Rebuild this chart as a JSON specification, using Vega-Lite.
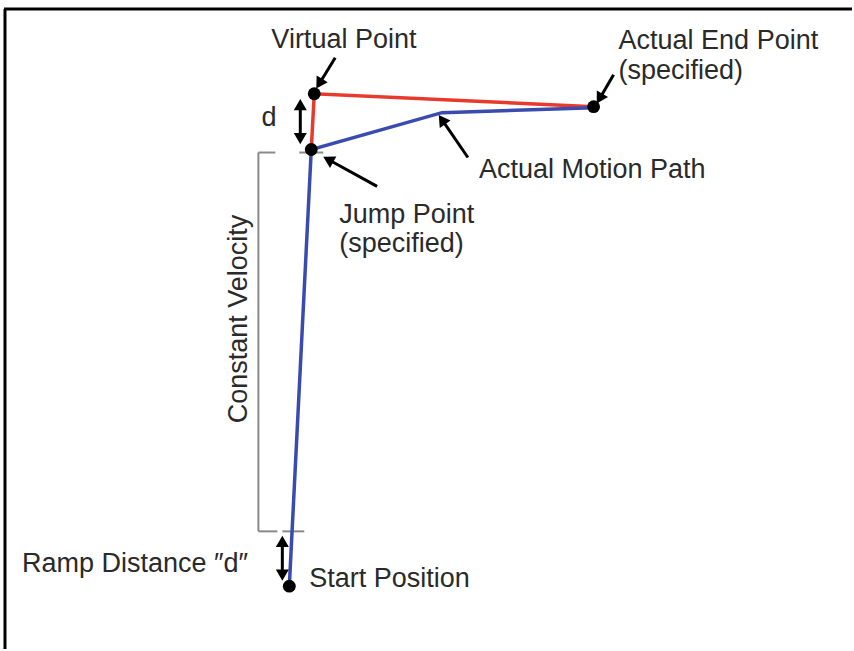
{
  "$schema": "https://vega.github.io/schema/vega-lite/v6.json",
  "width": 854,
  "height": 651,
  "padding": 0,
  "autosize": {"type": "fit", "contains": "padding"},
  "background": "white",
  "config": {"view": {"stroke": null}},
  "datasets": {
    "frame": [
      {"x": 4, "y": 9, "x2": 854, "y2": 9},
      {"x": 5, "y": 9, "x2": 5, "y2": 651}
    ],
    "bracket": [
      {"x": 259, "y": 153, "x2": 259, "y2": 533},
      {"x": 259, "y": 153, "x2": 276, "y2": 153},
      {"x": 259, "y": 533, "x2": 278, "y2": 533},
      {"x": 283, "y": 533, "x2": 305, "y2": 533},
      {"x": 300, "y": 153, "x2": 324, "y2": 153}
    ],
    "paths": [
      {"path": "planned", "ord": 1, "x": 312, "y": 150},
      {"path": "planned", "ord": 2, "x": 315, "y": 94},
      {"path": "planned", "ord": 3, "x": 595, "y": 107},
      {"path": "actual", "ord": 1, "x": 290, "y": 588},
      {"path": "actual", "ord": 2, "x": 312, "y": 150},
      {"path": "actual", "ord": 3, "x": 443, "y": 113},
      {"path": "actual", "ord": 4, "x": 595, "y": 108}
    ],
    "dots": [
      {"x": 315, "y": 94},
      {"x": 595, "y": 107},
      {"x": 312, "y": 150},
      {"x": 290, "y": 588}
    ],
    "arrows": [
      {"x1": 336, "y1": 58, "x2": 320, "y2": 84, "both": false},
      {"x1": 615, "y1": 75, "x2": 601, "y2": 99, "both": false},
      {"x1": 469, "y1": 158, "x2": 443, "y2": 120, "both": false},
      {"x1": 378, "y1": 187, "x2": 329, "y2": 160, "both": false},
      {"x1": 301, "y1": 105, "x2": 301, "y2": 139, "both": true},
      {"x1": 283, "y1": 543, "x2": 283, "y2": 577, "both": true}
    ],
    "labels": [
      {"x": 272, "y": 48, "text": "Virtual Point"},
      {"x": 620, "y": 49, "text": "Actual End Point"},
      {"x": 620, "y": 79, "text": "(specified)"},
      {"x": 262, "y": 126, "text": "d"},
      {"x": 480, "y": 179, "text": "Actual Motion Path"},
      {"x": 340, "y": 224, "text": "Jump Point"},
      {"x": 340, "y": 253, "text": "(specified)"},
      {"x": 22, "y": 574, "text": "Ramp Distance ″d″"},
      {"x": 310, "y": 589, "text": "Start Position"}
    ],
    "vlabel": [
      {"x": 240, "y": 320, "text": "Constant Velocity"}
    ]
  },
  "layer": [
    {
      "data": {"name": "frame"},
      "mark": {"type": "rule", "color": "black", "strokeWidth": 3},
      "encoding": {
        "x": {"field": "x", "type": "quantitative", "scale": {"domain": [0, 854], "nice": false, "zero": false}, "axis": null},
        "y": {"field": "y", "type": "quantitative", "scale": {"domain": [0, 651], "nice": false, "zero": false, "reverse": true}, "axis": null},
        "x2": {"field": "x2"},
        "y2": {"field": "y2"}
      }
    },
    {
      "data": {"name": "bracket"},
      "mark": {"type": "rule", "color": "#8a8a8a", "strokeWidth": 2},
      "encoding": {
        "x": {"field": "x", "type": "quantitative", "scale": {"domain": [0, 854], "nice": false, "zero": false}, "axis": null},
        "y": {"field": "y", "type": "quantitative", "scale": {"domain": [0, 651], "nice": false, "zero": false, "reverse": true}, "axis": null},
        "x2": {"field": "x2"},
        "y2": {"field": "y2"}
      }
    },
    {
      "data": {"name": "paths"},
      "mark": {"type": "line", "strokeWidth": 3.5},
      "encoding": {
        "x": {"field": "x", "type": "quantitative", "scale": {"domain": [0, 854], "nice": false, "zero": false}, "axis": null},
        "y": {"field": "y", "type": "quantitative", "scale": {"domain": [0, 651], "nice": false, "zero": false, "reverse": true}, "axis": null},
        "color": {"field": "path", "type": "nominal", "scale": {"domain": ["planned", "actual"], "range": ["#e8392c", "#3a4bb0"]}, "legend": null},
        "order": {"field": "ord", "type": "quantitative"}
      }
    },
    {
      "data": {"name": "arrows"},
      "mark": {"type": "rule", "color": "black", "strokeWidth": 3},
      "encoding": {
        "x": {"field": "x1", "type": "quantitative", "scale": {"domain": [0, 854], "nice": false, "zero": false}, "axis": null},
        "y": {"field": "y1", "type": "quantitative", "scale": {"domain": [0, 651], "nice": false, "zero": false, "reverse": true}, "axis": null},
        "x2": {"field": "x2"},
        "y2": {"field": "y2"}
      }
    },
    {
      "data": {"name": "arrows"},
      "transform": [
        {"calculate": "atan2(datum.x2 - datum.x1, -(datum.y2 - datum.y1)) * 180 / PI", "as": "ang"}
      ],
      "mark": {"type": "point", "shape": "triangle-up", "filled": true, "color": "black", "size": 170, "opacity": 1},
      "encoding": {
        "x": {"field": "x2", "type": "quantitative", "scale": {"domain": [0, 854], "nice": false, "zero": false}, "axis": null},
        "y": {"field": "y2", "type": "quantitative", "scale": {"domain": [0, 651], "nice": false, "zero": false, "reverse": true}, "axis": null},
        "angle": {"field": "ang", "type": "quantitative", "scale": null}
      }
    },
    {
      "data": {"name": "arrows"},
      "transform": [
        {"filter": "datum.both"},
        {"calculate": "atan2(datum.x1 - datum.x2, -(datum.y1 - datum.y2)) * 180 / PI", "as": "ang"}
      ],
      "mark": {"type": "point", "shape": "triangle-up", "filled": true, "color": "black", "size": 170, "opacity": 1},
      "encoding": {
        "x": {"field": "x1", "type": "quantitative", "scale": {"domain": [0, 854], "nice": false, "zero": false}, "axis": null},
        "y": {"field": "y1", "type": "quantitative", "scale": {"domain": [0, 651], "nice": false, "zero": false, "reverse": true}, "axis": null},
        "angle": {"field": "ang", "type": "quantitative", "scale": null}
      }
    },
    {
      "data": {"name": "dots"},
      "mark": {"type": "circle", "color": "black", "size": 165, "opacity": 1},
      "encoding": {
        "x": {"field": "x", "type": "quantitative", "scale": {"domain": [0, 854], "nice": false, "zero": false}, "axis": null},
        "y": {"field": "y", "type": "quantitative", "scale": {"domain": [0, 651], "nice": false, "zero": false, "reverse": true}, "axis": null}
      }
    },
    {
      "data": {"name": "labels"},
      "mark": {"type": "text", "align": "left", "baseline": "alphabetic", "font": "Liberation Sans", "fontSize": 27, "color": "#2a2a2a"},
      "encoding": {
        "x": {"field": "x", "type": "quantitative", "scale": {"domain": [0, 854], "nice": false, "zero": false}, "axis": null},
        "y": {"field": "y", "type": "quantitative", "scale": {"domain": [0, 651], "nice": false, "zero": false, "reverse": true}, "axis": null},
        "text": {"field": "text"}
      }
    },
    {
      "data": {"name": "vlabel"},
      "mark": {"type": "text", "align": "center", "baseline": "middle", "angle": 270, "font": "Liberation Sans", "fontSize": 27, "color": "#2a2a2a"},
      "encoding": {
        "x": {"field": "x", "type": "quantitative", "scale": {"domain": [0, 854], "nice": false, "zero": false}, "axis": null},
        "y": {"field": "y", "type": "quantitative", "scale": {"domain": [0, 651], "nice": false, "zero": false, "reverse": true}, "axis": null},
        "text": {"field": "text"}
      }
    }
  ]
}
